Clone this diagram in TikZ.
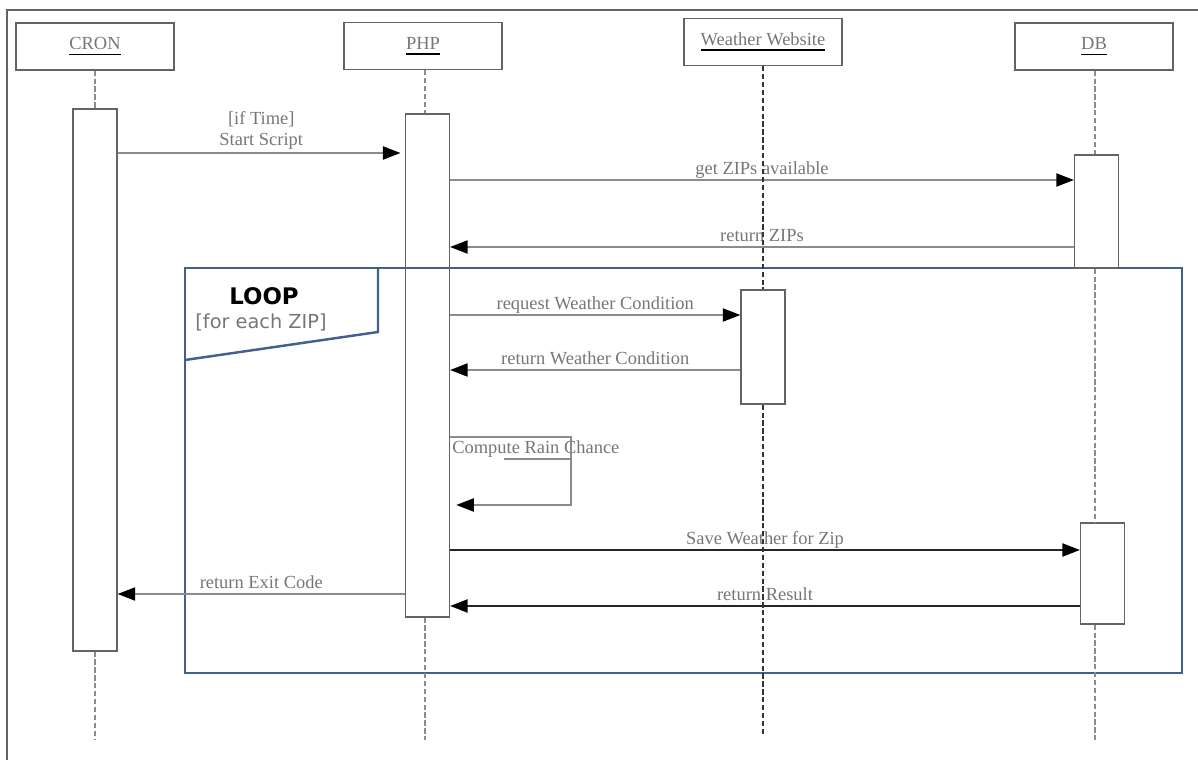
\documentclass[tikz,border=0pt]{standalone}
\usepackage{fontspec}
\setmainfont{Liberation Serif}
\newfontfamily\loopfont{DejaVu Sans}
\usepackage{tikz}
\usetikzlibrary{positioning,arrows.meta,calc}
\definecolor{lgray}{RGB}{118,118,118}
\definecolor{mgray}{RGB}{140,140,140}
\definecolor{bgray}{RGB}{100,100,100}
\definecolor{lblue}{RGB}{66,96,142}
% grey name with a heavier black underline
\newcommand{\lname}[1]{\setbox0\hbox{\textcolor{lgray}{#1}}%
  \leavevmode\rlap{\raisebox{-3pt}{\rule{\wd0}{0.9pt}}}\box0}

\begin{document}
\begin{tikzpicture}[x=0.02cm, y=-0.02cm,
  head/.style={draw=bgray, line width=0.7pt, minimum width=3.16cm,
               minimum height=0.94cm, font=\fontsize{10.5}{12}\selectfont},
  act/.style={draw=bgray, line width=0.7pt, minimum width=0.88cm,
              inner sep=0pt},
  life/.style={draw=mgray, line width=0.9pt, dash pattern=on 3pt off 1.5pt},
  lifedark/.style={draw=black!80, line width=0.6pt, dash pattern=on 3pt off 1.5pt},
  msg/.style={draw=mgray, line width=0.85pt,
              -{Triangle[length=10pt,width=7.5pt,black]}},
  msgdark/.style={msg, draw=black!85, line width=1pt},
  lbl/.style={font=\fontsize{10.5}{12}\selectfont, text=lgray, inner sep=0pt},
  lblup/.style={lbl, anchor=base, yshift=3pt},
  loopframe/.style={draw=lblue, line width=1.4pt}]
  \useasboundingbox (0,0) rectangle (1198,760);
  \draw[draw=bgray, line width=1.5pt] (7,760) -- (7,10) -- (1198,10);

  % loop fragment
  \draw[loopframe] (185,268) rectangle (1182,673);
  \draw[loopframe] (185,360) -- (378,332) -- (378,268);
  \node[font=\loopfont\bfseries\fontsize{13}{15}\selectfont] (loop) at (264,296) {LOOP};
  \node[font=\loopfont\fontsize{11}{13}\selectfont, text=lgray] (cond) at (261,322) {[for each ZIP]};

  % lifeline heads
  \node[head] (cron) at (95,46.5) {\lname{CRON}};
  \node[head] (php) at (423,46) {\lname{PHP}};
  \node[head] (web) at (763,42) {\lname{Weather Website}};
  \node[head] (db) at (1094,46.5) {\lname{DB}};

  % activations
  \node[act, minimum height=10.84cm] (cronA) at (95,380) {};
  \node[act, minimum height=10.06cm] (phpA) at (427.5,365.5) {};
  \node[act, minimum height=2.28cm] (webA) at (763,347) {};
  \node[act, minimum height=2.26cm] (dbA1) at (1096.5,211.5) {};
  \node[act, minimum height=2.02cm] (dbA2) at (1102.5,573.5) {};

  % messages
  \draw[msg, shorten >=2.5pt] (cronA.east |- 0,153) -- node[lbl, anchor=south, align=center,
    inner sep=1.5pt] (start) {[if Time]\\Start Script} (phpA.west |- 0,153);
  \draw[msg] (phpA.east |- 0,180) -- node[lblup] (getzip) {get ZIPs available} (dbA1.west |- 0,180);
  \draw[msg] (dbA1.west |- 0,247) -- node[lblup] (retzip) {return ZIPs} (phpA.east |- 0,247);
  \draw[msg] (phpA.east |- 0,315) -- node[lblup] (reqw) {request Weather Condition} (webA.west |- 0,315);
  \draw[msg] (webA.west |- 0,370) -- node[lblup] (retw) {return Weather Condition} (phpA.east |- 0,370);
  \draw[msg, shorten >=3.5pt] (phpA.east |- 0,437) -| (571,505) -- (phpA.east |- 0,505);
  \node[lbl, anchor=base west] (rain) at (452,454) {Compute Rain Chance};
  \draw[mgray, line width=0.6pt] (504,459) -- (571,459);
  \draw[msgdark] (phpA.east |- 0,550) -- node[lblup] (save) {Save Weather for Zip} (dbA2.west |- 0,550);
  \draw[msgdark] (dbA2.west |- 0,606) -- node[lblup] (result) {return Result} (phpA.east |- 0,606);
  \draw[msg] (phpA.west |- 0,594) -- node[lblup] (exit) {return Exit Code} (cronA.east |- 0,594);

  % lifelines
  \coordinate (cronEnd) at (95,740);
  \coordinate (phpEnd) at (425,740);
  \coordinate (webEnd) at (763,735);
  \coordinate (dbEnd) at (1095,740);
  \draw[life] (cron) -- (cronA);
  \draw[life] (cronA) -- (cronEnd);
  \draw[life] (php.south -| phpEnd) -- (phpA.north -| phpEnd);
  \draw[life] (phpA.south -| phpEnd) -- (phpEnd);
  \draw[lifedark] (web) -- (webA);
  \draw[lifedark] (webA) -- (webEnd);
  \draw[life] (db.south -| dbEnd) -- (dbA1.north -| dbEnd);
  \draw[life] (dbA1.south -| dbEnd) -- (dbA2.north -| dbEnd);
  \draw[life] (dbA2.south -| dbEnd) -- (dbEnd);
\end{tikzpicture}
\end{document}
